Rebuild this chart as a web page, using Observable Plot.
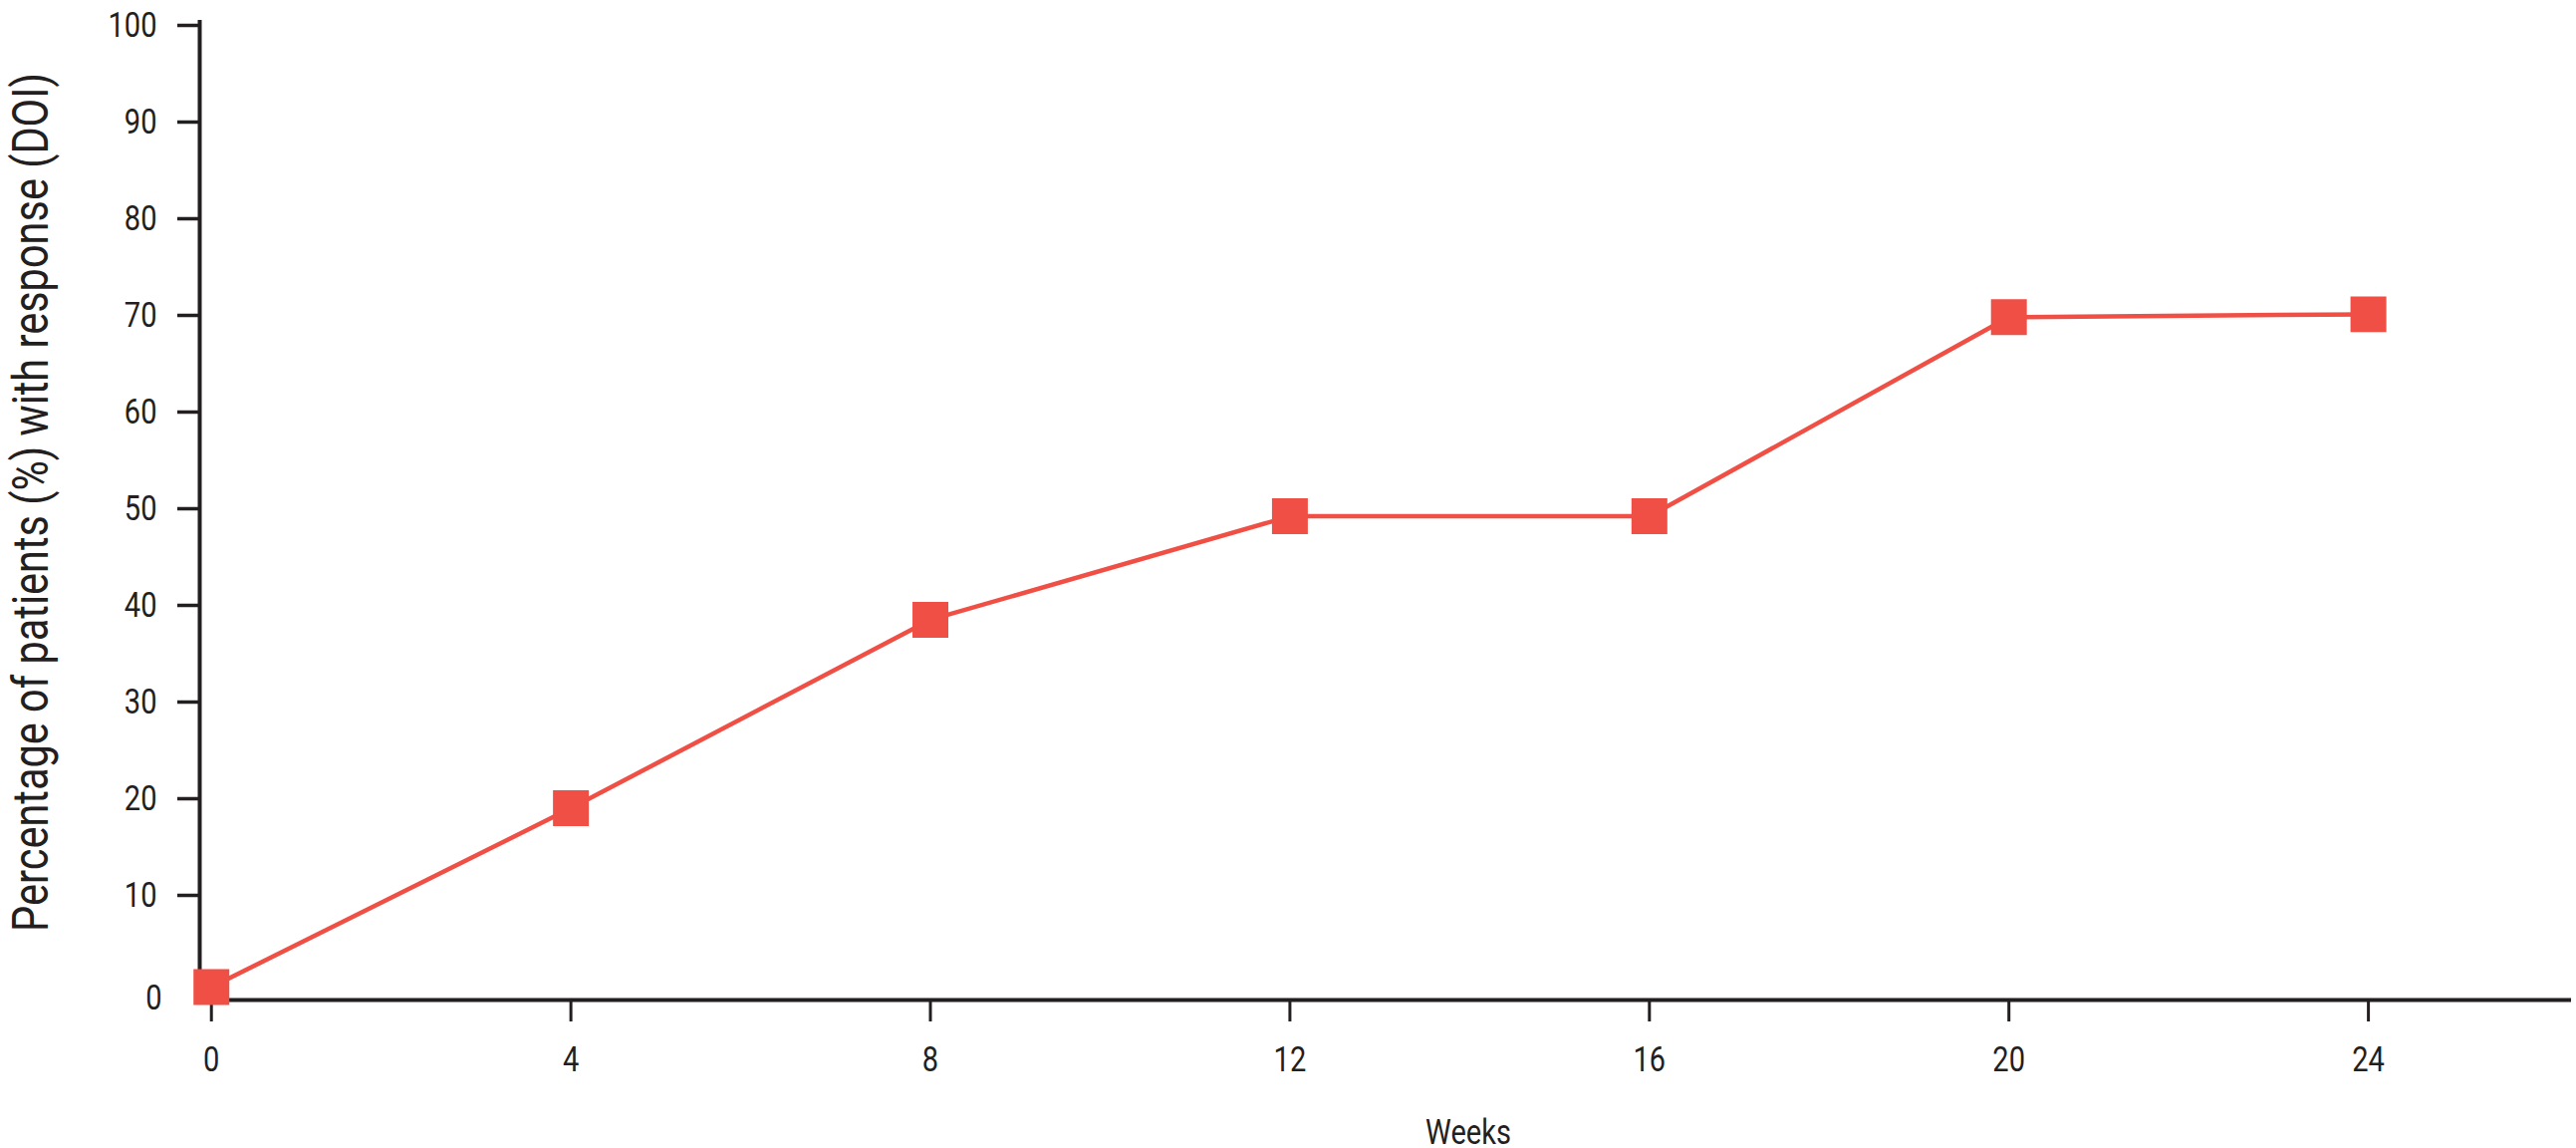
<!DOCTYPE html>
<html><head><meta charset="utf-8">
<script src="https://cdn.jsdelivr.net/npm/d3@7"></script>
<script src="https://cdn.jsdelivr.net/npm/@observablehq/plot@0.6"></script>
<style>
html,body{margin:0;padding:0;background:#fff;}
</style></head><body><div id="chart"></div>
<script>
// ---- data ----
const weeks = [0, 4, 8, 12, 16, 20, 24];
const response = [0, 18.5, 38, 48.7, 48.7, 69.3, 69.6];
const xTicks = [0, 4, 8, 12, 16, 20, 24];
const yTicks = [10, 20, 30, 40, 50, 60, 70, 80, 90, 100];
const yZeroTick = [0];
const xTitle = "Weeks";
const yTitle = "Percentage of patients (%) with response (DOI)";

const data = weeks.map((w, i) => ({week: w, value: response[i]}));
const ink = "#231f20";
const red = "#ef4f44";
const font = "Roboto, 'Liberation Sans', sans-serif";
const xDomain = [-0.13, 26.26];
const yDomain = [-1.34, 100];

const chart = Plot.plot({
  width: 2586, height: 1152,
  marginLeft: 200, marginRight: 5, marginTop: 20, marginBottom: 149,
  style: {fontFamily: font, color: ink, background: "#fff", overflow: "visible"},
  x: {domain: xDomain},
  y: {domain: yDomain},
  marks: [
    Plot.ruleX([xDomain[0]], {stroke: ink, strokeWidth: 4}),
    Plot.ruleY([yDomain[0]], {stroke: ink, strokeWidth: 4}),
    Plot.axisY(yTicks, {tickSize: 22, tickPadding: 21, strokeWidth: 3.5, stroke: ink, fill: ink, fontSize: 35, label: null, dy: 5}),
    Plot.axisY(yZeroTick, {tickSize: 0, tickPadding: 38, fill: ink, fontSize: 35, label: null, dy: 11}),
    Plot.axisX(xTicks, {tickSize: 22, tickPadding: 25, strokeWidth: 3, stroke: ink, fill: ink, fontSize: 35, label: null}),
    Plot.text([yTitle], {text: d => d, frameAnchor: "left", textAnchor: "middle", rotate: -90, lineAnchor: "top", dx: -188, dy: -8, fontSize: 50, fill: ink}),
    Plot.text([xTitle], {text: d => d, frameAnchor: "bottom", textAnchor: "middle", lineAnchor: "top", dx: 83, dy: 120, fontSize: 35, fill: ink}),
    Plot.line(data, {x: "week", y: "value", stroke: red, strokeWidth: 4.5}),
    Plot.dot(data, {x: "week", y: "value", symbol: "square", r: 20.3, fill: red, stroke: null})
  ]
});
// condensed look: compress every text horizontally about its own anchor
d3.select(chart).selectAll("text").each(function() {
  const t = this.getAttribute("transform") || "";
  this.setAttribute("transform", (t + " scale(0.83,1)").trim());
});
document.getElementById("chart").appendChild(chart);
</script>
</body></html>
